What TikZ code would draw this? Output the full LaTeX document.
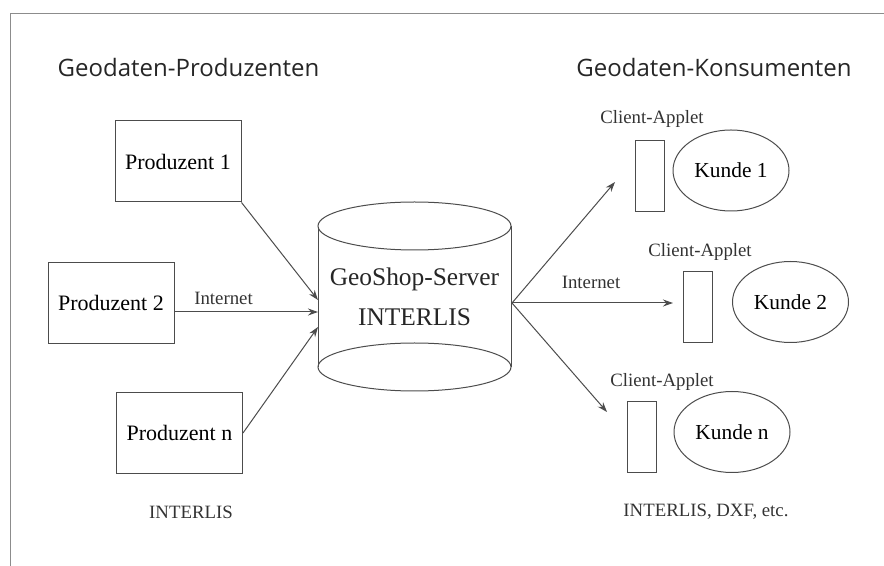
\documentclass[tikz,border=0pt]{standalone}
\usepackage{fontspec}
\setmainfont{Liberation Serif}
\newfontfamily\titlefont{Open Sans}
\usetikzlibrary{arrows.meta,shapes.geometric}

\begin{document}
\begin{tikzpicture}[x=0.5pt, y=-0.5pt,
    line width=0.5pt,
    prodbox/.style={draw=black!70, rectangle, inner sep=0pt, minimum width=63pt, minimum height=40.5pt, font=\fontsize{11}{13}\selectfont},
    appletbox/.style={draw=black!70, rectangle, inner sep=0pt, minimum width=14.5pt, minimum height=35.5pt},
    kundeoval/.style={draw=black!70, ellipse, inner sep=0pt, minimum width=58pt, minimum height=40.5pt, font=\fontsize{10.7}{13}\selectfont},
    smalltext/.style={text=black!80, font=\fontsize{9.4}{11}\selectfont},
    headline/.style={anchor=base, text=black!85, font=\titlefont\fontsize{12}{14}\selectfont},
    link/.style={draw=black!70, -{Stealth[length=5pt,width=3.5pt]}}]
    \useasboundingbox (0,0) rectangle (884,566);

    % frame
    \draw[black!45] (10,566) -- (10,14) -- (884,14);

    % titles
    \node[headline] (ttlprod) at (188.5,77) {Geodaten-Produzenten};
    \node[headline] (ttlkons) at (714,77) {Geodaten-Konsumenten};

    % producers
    \node[prodbox] (p1) at (178,161.5) {Produzent 1};
    \node[prodbox] (p2) at (111,303) {Produzent 2};
    \node[prodbox] (pn) at (179.5,433) {Produzent n};

    % server
    \draw[black!70] (318,226) -- (318,367) (511,226) -- (511,367);
    \draw[black!70, fill=white] (414.5,226) ellipse (48.25pt and 12pt);
    \draw[black!70] (414.5,367) ellipse (48.25pt and 12pt);
    \node[align=center, font=\fontsize{12.7}{20}\selectfont, text=black!85] (srv) at (414.5,297) {GeoShop-Server\\INTERLIS};

    \coordinate (in1) at (318,300);
    \coordinate (in2) at (318,312);
    \coordinate (in3) at (318,327);
    \coordinate (out) at (512,303);

    \draw[link] (p1.south east) -- (in1);
    \draw[link] (p2.east |- in2) -- (in2);
    \draw[link] (pn.east) -- (in3);
    \node[smalltext] (netl) at (223.5,298) {Internet};

    % consumers
    \node[appletbox] (a1) at (649.5,176) {};
    \node[appletbox] (a2) at (698,307) {};
    \node[appletbox] (a3) at (641.5,437) {};
    \node[smalltext] (al1) at (652,119) {Client-Applet};
    \node[smalltext] (al2) at (700,252) {Client-Applet};
    \node[smalltext] (al3) at (662,382) {Client-Applet};

    \node[kundeoval] (k1) at (731,170.5) {Kunde 1};
    \node[kundeoval] (k2) at (790.5,302) {Kunde 2};
    \node[kundeoval] (kn) at (732,432) {Kunde n};

    \coordinate (to1) at (615,182);
    \coordinate (to2) at (673,303);
    \coordinate (to3) at (607,412);
    \draw[link] (out) -- (to1);
    \draw[link] (out) -- (to2);
    \draw[link] (out) -- (to3);
    \node[smalltext] (netr) at (591,282) {Internet};

    % formats
    \node[smalltext] (fmtprod) at (191,512) {INTERLIS};
    \node[smalltext] (fmtkons) at (706,512) {INTERLIS, DXF, etc.};
\end{tikzpicture}
\end{document}
